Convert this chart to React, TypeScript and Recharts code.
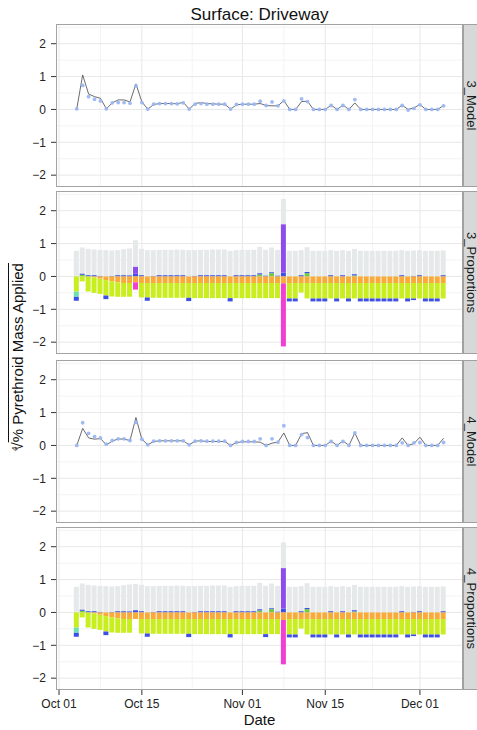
import React from 'react';
import {
  ComposedChart,
  BarChart,
  Bar,
  Line,
  XAxis,
  YAxis,
  CartesianGrid,
} from 'recharts';

// ---- sampling dates (MM-DD) ----
const dates = [
  '10-04', '10-05', '10-06', '10-07', '10-08', '10-09', '10-10', '10-11', '10-12', '10-13',
  '10-14', '10-15', '10-16', '10-17', '10-18', '10-19', '10-20', '10-21', '10-22', '10-23',
  '10-24', '10-25', '10-26', '10-27', '10-28', '10-29', '10-30', '10-31', '11-01', '11-02',
  '11-03', '11-04', '11-05', '11-06', '11-07', '11-08', '11-09', '11-10', '11-11', '11-12',
  '11-13', '11-14', '11-15', '11-16', '11-17', '11-18', '11-19', '11-20', '11-21', '11-22',
  '11-23', '11-24', '11-25', '11-26', '11-27', '11-28', '11-29', '11-30', '12-01', '12-02',
  '12-03', '12-04', '12-05',
];

// ---- axis ticks ----
const xTickDates = ['10-01', '10-15', '11-01', '11-15', '12-01'];
const xTickLabels = ['Oct 01', 'Oct 15', 'Nov 01', 'Nov 15', 'Dec 01'];
const xMinorDays = [7, 22.5, 38, 53];
const yTicks = [-2, -1, 0, 1, 2];
const yMinor = [-1.5, -0.5, 0.5, 1.5, 2.5];

// ---- model panels: fitted line and observed points ----
const model3Fit = [
  0.02, 1.05, 0.47, 0.39, 0.34, 0.02, 0.20, 0.29, 0.29, 0.23,
  0.78, 0.23, 0.01, 0.15, 0.18, 0.18, 0.18, 0.17, 0.22, 0.01,
  0.18, 0.21, 0.18, 0.17, 0.16, 0.16, 0.01, 0.14, 0.16, 0.16,
  0.16, 0.18, 0.12, 0.11, 0.11, 0.27, 0.00, 0.00, 0.24, 0.25,
  0.00, 0.00, 0.00, 0.13, 0.00, 0.13, 0.00, 0.20, 0.00, 0.00,
  0.00, 0.00, 0.00, 0.00, 0.00, 0.13, 0.00, 0.05, 0.15, 0.00,
  0.00, 0.00, 0.12,
];
const model3Obs = [
  0.02, 0.73, 0.39, 0.31, 0.26, 0.02, 0.20, 0.21, 0.21, 0.19,
  0.72, 0.21, 0.01, 0.16, 0.18, 0.18, 0.18, 0.17, 0.20, 0.01,
  0.16, 0.18, 0.16, 0.16, 0.16, 0.16, 0.01, 0.15, 0.16, 0.16,
  0.16, 0.25, 0.12, 0.23, 0.11, 0.26, 0.00, 0.00, 0.32, 0.24,
  0.00, 0.00, 0.00, 0.12, 0.00, 0.12, 0.00, 0.30, 0.00, 0.00,
  0.00, 0.00, 0.00, 0.00, 0.00, 0.12, -0.02, 0.03, 0.14, 0.00,
  0.00, 0.00, 0.11,
];
const model4Fit = [
  0.00, 0.52, 0.23, 0.19, 0.21, 0.02, 0.13, 0.20, 0.19, 0.15,
  0.85, 0.19, 0.02, 0.12, 0.14, 0.14, 0.14, 0.14, 0.14, 0.02,
  0.13, 0.14, 0.12, 0.12, 0.12, 0.12, 0.00, 0.09, 0.11, 0.11,
  0.11, 0.10, 0.00, 0.07, 0.10, 0.38, 0.00, 0.00, 0.36, 0.39,
  0.00, 0.00, 0.00, 0.13, 0.00, 0.14, 0.00, 0.38, 0.00, 0.00,
  0.00, 0.00, 0.00, 0.00, 0.00, 0.23, 0.00, 0.06, 0.25, 0.00,
  0.00, 0.00, 0.22,
];
const model4Obs = [
  0.00, 0.69, 0.37, 0.27, 0.23, 0.04, 0.15, 0.20, 0.20, 0.15,
  0.70, 0.19, 0.02, 0.13, 0.14, 0.14, 0.14, 0.14, 0.14, 0.02,
  0.13, 0.14, 0.13, 0.13, 0.13, 0.13, 0.00, 0.09, 0.12, 0.12,
  0.12, 0.20, 0.00, 0.20, 0.10, 0.60, 0.00, 0.00, 0.33, 0.24,
  0.00, 0.00, 0.00, 0.12, 0.00, 0.12, 0.00, 0.38, 0.00, 0.00,
  0.00, 0.00, 0.00, 0.00, 0.00, 0.08, 0.00, 0.08, 0.09, 0.00,
  0.00, 0.00, 0.09,
];

// ---- proportion panels: segment heights per day ----
// total height of the positive stack
const top3 = [
  0.78, 0.88, 0.84, 0.82, 0.81, 0.80, 0.79, 0.80, 0.83, 0.85,
  1.10, 0.84, 0.80, 0.80, 0.81, 0.81, 0.81, 0.82, 0.81, 0.80,
  0.80, 0.81, 0.81, 0.82, 0.82, 0.82, 0.78, 0.80, 0.81, 0.81,
  0.81, 0.90, 0.81, 0.88, 0.81, 2.36, 0.78, 0.78, 0.80, 0.89,
  0.78, 0.78, 0.78, 0.80, 0.78, 0.80, 0.78, 0.84, 0.78, 0.78,
  0.78, 0.78, 0.78, 0.78, 0.78, 0.80, 0.78, 0.79, 0.80, 0.78,
  0.78, 0.78, 0.79,
];
const top4 = [
  0.78, 0.88, 0.84, 0.82, 0.81, 0.80, 0.79, 0.80, 0.83, 0.85,
  0.87, 0.84, 0.80, 0.80, 0.81, 0.81, 0.81, 0.82, 0.81, 0.80,
  0.80, 0.81, 0.81, 0.82, 0.82, 0.82, 0.78, 0.80, 0.81, 0.81,
  0.81, 0.90, 0.81, 0.88, 0.81, 2.13, 0.78, 0.78, 0.80, 0.89,
  0.78, 0.78, 0.78, 0.80, 0.78, 0.80, 0.78, 0.84, 0.78, 0.78,
  0.78, 0.78, 0.78, 0.78, 0.78, 0.80, 0.78, 0.79, 0.80, 0.78,
  0.78, 0.78, 0.79,
];
const greenPos = [
  0, 0.05, 0, 0, 0, 0, 0, 0, 0, 0,
  0, 0, 0, 0, 0, 0, 0, 0, 0, 0,
  0, 0, 0, 0, 0, 0, 0, 0, 0, 0,
  0, 0.06, 0, 0.10, 0, 0, 0, 0, 0, 0.10,
  0, 0, 0, 0, 0, 0, 0, 0.03, 0, 0,
  0, 0, 0, 0, 0, 0, 0, 0, 0, 0,
  0, 0, 0,
];
const bluePos3 = [
  0, 0.04, 0.04, 0.04, 0.02, 0, 0.02, 0.04, 0.04, 0.04,
  0.08, 0.04, 0, 0.02, 0.04, 0.04, 0.04, 0.04, 0.04, 0,
  0.02, 0.04, 0.04, 0.04, 0.04, 0.04, 0, 0.04, 0.04, 0.04,
  0.04, 0.04, 0.03, 0.03, 0.03, 0.12, 0, 0, 0.04, 0.04,
  0, 0, 0, 0.04, 0, 0.04, 0, 0.04, 0, 0,
  0, 0, 0, 0, 0, 0.04, 0, 0.02, 0.04, 0,
  0, 0, 0.04,
];
const bluePos4 = [
  0, 0.04, 0.04, 0.04, 0.02, 0, 0.02, 0.04, 0.04, 0.04,
  0.07, 0.04, 0, 0.02, 0.04, 0.04, 0.04, 0.04, 0.04, 0,
  0.02, 0.04, 0.04, 0.04, 0.04, 0.04, 0, 0.04, 0.04, 0.04,
  0.04, 0.04, 0, 0.03, 0.03, 0.12, 0, 0, 0.04, 0.04,
  0, 0, 0, 0.04, 0, 0.04, 0, 0.04, 0, 0,
  0, 0, 0, 0, 0, 0.04, 0, 0.02, 0.04, 0,
  0, 0, 0.04,
];
const purple3 = [
  0, 0, 0, 0, 0, 0, 0, 0, 0, 0,
  0.22, 0, 0, 0, 0, 0, 0, 0, 0, 0,
  0, 0, 0, 0, 0, 0, 0, 0, 0, 0,
  0, 0, 0, 0, 0, 1.47, 0, 0, 0, 0,
  0, 0, 0, 0, 0, 0, 0, 0, 0, 0,
  0, 0, 0, 0, 0, 0, 0, 0, 0, 0,
  0, 0, 0,
];
const purple4 = [
  0, 0, 0, 0, 0, 0, 0, 0, 0, 0,
  0, 0, 0, 0, 0, 0, 0, 0, 0, 0,
  0, 0, 0, 0, 0, 0, 0, 0, 0, 0,
  0, 0, 0, 0, 0, 1.23, 0, 0, 0, 0,
  0, 0, 0, 0, 0, 0, 0, 0, 0, 0,
  0, 0, 0, 0, 0, 0, 0, 0, 0, 0,
  0, 0, 0,
];
const orange3 = [
  0, 0, 0, 0.03, 0.07, 0.11, 0.15, 0.18, 0.20, 0.20,
  0.18, 0.20, 0.20, 0.20, 0.20, 0.20, 0.20, 0.20, 0.20, 0.20,
  0.20, 0.20, 0.20, 0.20, 0.20, 0.20, 0.20, 0.20, 0.20, 0.20,
  0.20, 0.20, 0.20, 0.20, 0.20, 0.21, 0.20, 0.20, 0.20, 0.20,
  0.20, 0.20, 0.20, 0.20, 0.20, 0.20, 0.20, 0.20, 0.20, 0.20,
  0.20, 0.20, 0.20, 0.20, 0.20, 0.20, 0.20, 0.20, 0.20, 0.20,
  0.20, 0.20, 0.20,
];
const orange4 = [
  0, 0, 0, 0.03, 0.07, 0.11, 0.15, 0.18, 0.20, 0.20,
  0.20, 0.20, 0.20, 0.20, 0.20, 0.20, 0.20, 0.20, 0.20, 0.20,
  0.20, 0.20, 0.20, 0.20, 0.20, 0.20, 0.20, 0.20, 0.20, 0.20,
  0.20, 0.20, 0.20, 0.20, 0.20, 0.23, 0.20, 0.20, 0.20, 0.20,
  0.20, 0.20, 0.20, 0.20, 0.20, 0.20, 0.20, 0.20, 0.20, 0.20,
  0.20, 0.20, 0.20, 0.20, 0.20, 0.20, 0.20, 0.20, 0.20, 0.20,
  0.20, 0.20, 0.20,
];
const yellowGreen3 = [
  0.46, 0.15, 0.46, 0.47, 0.46, 0.47, 0.46, 0.44, 0.42, 0.42,
  0.00, 0.44, 0.44, 0.45, 0.45, 0.45, 0.45, 0.45, 0.45, 0.45,
  0.46, 0.46, 0.46, 0.46, 0.46, 0.46, 0.46, 0.46, 0.46, 0.46,
  0.46, 0.46, 0.46, 0.46, 0.46, 0.00, 0.47, 0.47, 0.29, 0.47,
  0.47, 0.47, 0.47, 0.47, 0.47, 0.47, 0.47, 0.47, 0.47, 0.47,
  0.47, 0.47, 0.47, 0.47, 0.47, 0.47, 0.47, 0.47, 0.47, 0.47,
  0.47, 0.47, 0.47,
];
const yellowGreen4 = [
  0.46, 0.15, 0.46, 0.47, 0.46, 0.47, 0.46, 0.44, 0.42, 0.42,
  0.00, 0.44, 0.44, 0.45, 0.45, 0.45, 0.45, 0.45, 0.45, 0.45,
  0.46, 0.46, 0.46, 0.46, 0.46, 0.46, 0.46, 0.46, 0.46, 0.46,
  0.46, 0.46, 0.46, 0.46, 0.46, 0.00, 0.47, 0.47, 0.29, 0.47,
  0.47, 0.47, 0.47, 0.47, 0.47, 0.47, 0.47, 0.47, 0.47, 0.47,
  0.47, 0.47, 0.47, 0.47, 0.47, 0.47, 0.47, 0.47, 0.47, 0.47,
  0.47, 0.47, 0.47,
];
const tealNeg = [
  0.16, 0, 0, 0, 0, 0, 0, 0, 0, 0,
  0, 0, 0, 0, 0, 0, 0, 0, 0, 0,
  0, 0, 0, 0, 0, 0, 0, 0, 0, 0,
  0, 0, 0, 0, 0, 0, 0, 0, 0, 0,
  0, 0, 0, 0, 0, 0, 0, 0, 0, 0,
  0, 0, 0, 0, 0, 0, 0, 0, 0, 0,
  0, 0, 0,
];
const magenta3 = [
  0, 0, 0, 0, 0, 0, 0, 0, 0, 0,
  0.22, 0, 0, 0, 0, 0, 0, 0, 0, 0,
  0, 0, 0, 0, 0, 0, 0, 0, 0, 0,
  0, 0, 0, 0, 0, 1.92, 0, 0, 0, 0,
  0, 0, 0, 0, 0, 0, 0, 0, 0, 0,
  0, 0, 0, 0, 0, 0, 0, 0, 0, 0,
  0, 0, 0,
];
const magenta4 = [
  0, 0, 0, 0, 0, 0, 0, 0, 0, 0,
  0, 0, 0, 0, 0, 0, 0, 0, 0, 0,
  0, 0, 0, 0, 0, 0, 0, 0, 0, 0,
  0, 0, 0, 0, 0, 1.35, 0, 0, 0, 0,
  0, 0, 0, 0, 0, 0, 0, 0, 0, 0,
  0, 0, 0, 0, 0, 0, 0, 0, 0, 0,
  0, 0, 0,
];
const blueNeg3 = [
  0.12, 0, 0, 0, 0, 0.11, 0, 0, 0, 0,
  0, 0, 0.10, 0, 0, 0, 0, 0, 0, 0.10,
  0, 0, 0, 0, 0, 0, 0.10, 0, 0, 0,
  0, 0, 0, 0, 0, 0, 0.09, 0.09, 0, 0,
  0.09, 0.09, 0.09, 0, 0.09, 0, 0.09, 0, 0.09, 0.09,
  0.09, 0.09, 0.09, 0.09, 0.09, 0, 0.09, 0.05, 0, 0.09,
  0.09, 0.09, 0,
];
const blueNeg4 = [
  0.12, 0, 0, 0, 0, 0.11, 0, 0, 0, 0,
  0, 0, 0.10, 0, 0, 0, 0, 0, 0, 0.10,
  0, 0, 0, 0, 0, 0, 0.10, 0, 0, 0,
  0, 0, 0.09, 0, 0, 0, 0.09, 0.09, 0, 0,
  0.09, 0.09, 0.09, 0, 0.09, 0, 0.09, 0, 0.09, 0.09,
  0.09, 0.09, 0.09, 0.09, 0.09, 0, 0.09, 0.05, 0, 0.09,
  0.09, 0.09, 0,
];

// ---- layout & style ----
const FONT = '"Liberation Sans", Arial, Helvetica, sans-serif';
const CHART_W = 477;
const PLOT_LEFT = 56;
const PLOT_RIGHT = 463;
const PANEL_H = 163;
const X_AXIS_H = 34;
const panelTops = [24, 191, 360, 527];
const stripLabels = ['3_Model', '3_Proportions', '4_Model', '4_Proportions'];
const X_DOMAIN: [number, number] = [-0.51, 68.28];
const Y_DOMAIN: [number, number] = [-2.36, 2.6];

const COLORS = {
  grey: '#E6E9E9',
  green: '#72CC3E',
  blue: '#3F4FE2',
  purple: '#8D4DEB',
  orange: '#F8AB3A',
  yellowGreen: '#C8EE20',
  teal: '#6CE2B2',
  magenta: '#F23FD3',
  fit: '#5A5A5A',
  obs: '#9BB6F3',
};

const monthStart: Record<string, number> = { '10': 0, '11': 31, '12': 61 };
const dayNumber = (md: string) => monthStart[md.slice(0, 2)] + Number(md.slice(3)) - 1;
const xTickValues = xTickDates.map(dayNumber);
const xLabelOf = (v: number) => xTickLabels[xTickValues.indexOf(v)] ?? '';
const yLabelOf = (v: number) => (v < 0 ? '\u2212' + Math.abs(v) : String(v));

const modelData = (fit: number[], obs: number[]) =>
  dates.map((d, i) => ({ x: dayNumber(d), fit: fit[i], obs: obs[i] }));

const propData = (
  top: number[], blue: number[], purple: number[], orange: number[],
  yg: number[], magenta: number[], blueNeg: number[],
) =>
  dates.map((d, i) => ({
    x: dayNumber(d),
    green: greenPos[i],
    blue: blue[i],
    purple: purple[i],
    grey: Math.max(0, top[i] - greenPos[i] - blue[i] - purple[i]),
    orange: -orange[i],
    yellowGreen: -yg[i],
    teal: -tealNeg[i],
    magenta: -magenta[i],
    blueNeg: -blueNeg[i],
  }));

const panels = [
  { kind: 'model', data: modelData(model3Fit, model3Obs) },
  { kind: 'prop', data: propData(top3, bluePos3, purple3, orange3, yellowGreen3, magenta3, blueNeg3) },
  { kind: 'model', data: modelData(model4Fit, model4Obs) },
  { kind: 'prop', data: propData(top4, bluePos4, purple4, orange4, yellowGreen4, magenta4, blueNeg4) },
];

const axisParts = (showX: boolean) => [
  <CartesianGrid
    key="gminor"
    horizontalValues={yMinor}
    verticalValues={xMinorDays}
    stroke="#F3F3F3"
    strokeWidth={1}
  />,
  <CartesianGrid
    key="gmajor"
    horizontalValues={yTicks}
    verticalValues={xTickValues}
    stroke="#E8E8E8"
    strokeWidth={1}
  />,
  <XAxis
    key="x"
    dataKey="x"
    type="number"
    domain={X_DOMAIN}
    allowDataOverflow
    ticks={xTickValues}
    interval={0}
    tickFormatter={xLabelOf}
    hide={!showX}
    height={X_AXIS_H}
    axisLine={false}
    tickSize={5}
    tickMargin={4}
    tickLine={{ stroke: '#333333' }}
    tick={{ fill: '#222222', fontSize: 12, fontFamily: FONT }}
  />,
  <YAxis
    key="y"
    type="number"
    domain={Y_DOMAIN}
    allowDataOverflow
    ticks={yTicks}
    interval={0}
    tickFormatter={yLabelOf}
    width={PLOT_LEFT}
    axisLine={false}
    tickSize={5}
    tickMargin={5}
    tickLine={{ stroke: '#333333' }}
    tick={{ fill: '#222222', fontSize: 12, fontFamily: FONT }}
  />,
];

const margin = { top: 0, right: CHART_W - PLOT_RIGHT, bottom: 0, left: 0 };

function ModelPanel({ data, showX }: { data: any[]; showX: boolean }) {
  return (
    <ComposedChart
      width={CHART_W}
      height={PANEL_H + (showX ? X_AXIS_H : 0)}
      data={data}
      margin={margin}
    >
      {axisParts(showX)}
      <Line
        dataKey="fit"
        type="linear"
        stroke={COLORS.fit}
        strokeWidth={0.9}
        dot={false}
        activeDot={false}
        isAnimationActive={false}
      />
      <Line
        dataKey="obs"
        type="linear"
        stroke="none"
        dot={{ r: 1.9, fill: COLORS.obs, stroke: 'none', fillOpacity: 0.95 }}
        activeDot={false}
        isAnimationActive={false}
      />
    </ComposedChart>
  );
}

const stackKeys: (keyof typeof COLORS)[] = [
  'green', 'blue', 'purple', 'grey', 'orange', 'yellowGreen', 'teal', 'magenta',
];

function PropPanel({ data, showX }: { data: any[]; showX: boolean }) {
  return (
    <BarChart
      width={CHART_W}
      height={PANEL_H + (showX ? X_AXIS_H : 0)}
      data={data}
      margin={margin}
      stackOffset="sign"
      barGap={0}
    >
      {axisParts(showX)}
      {stackKeys.map((k) => (
        <Bar key={k} dataKey={k} stackId="s" fill={COLORS[k]} barSize={5} isAnimationActive={false} />
      ))}
      <Bar dataKey="blueNeg" stackId="s" fill={COLORS.blue} barSize={5} isAnimationActive={false} />
    </BarChart>
  );
}

export default function App() {
  return (
    <div
      style={{
        position: 'absolute',
        left: 0,
        top: 0,
        width: CHART_W,
        height: 730,
        background: '#ffffff',
        fontFamily: FONT,
        overflow: 'hidden',
      }}
    >
      {panels.map((p, i) => (
        <div key={i} style={{ position: 'absolute', left: 0, top: panelTops[i] }}>
          {p.kind === 'model' ? (
            <ModelPanel data={p.data} showX={i === 3} />
          ) : (
            <PropPanel data={p.data} showX={i === 3} />
          )}
        </div>
      ))}

      <svg
        width={CHART_W}
        height={730}
        style={{ position: 'absolute', left: 0, top: 0, pointerEvents: 'none' }}
      >
        <text x={259.5} y={19.5} textAnchor="middle" fontSize={17} fill="#111" fontFamily={FONT}>
          Surface: Driveway
        </text>
        {panelTops.map((t, i) => (
          <g key={i}>
            <rect
              x={PLOT_LEFT + 0.5}
              y={t + 0.5}
              width={PLOT_RIGHT - PLOT_LEFT - 1}
              height={PANEL_H - 1}
              fill="none"
              stroke="#A3A3A3"
              strokeWidth={1}
            />
            <rect
              x={PLOT_RIGHT + 0.5}
              y={t + 0.5}
              width={30}
              height={PANEL_H - 1}
              fill="#D7D9D9"
              stroke="#A0A0A0"
              strokeWidth={1}
            />
            <text
              x={466.5}
              y={t + PANEL_H / 2}
              transform={`rotate(90, 466.5, ${t + PANEL_H / 2})`}
              textAnchor="middle"
              fontSize={13}
              fill="#1A1A1A"
              fontFamily={FONT}
            >
              {stripLabels[i]}
            </text>
          </g>
        ))}
        <text x={259.5} y={725} textAnchor="middle" fontSize={15} fill="#111" fontFamily={FONT}>
          Date
        </text>
      </svg>

      <div
        style={{
          position: 'absolute',
          left: 18,
          top: 357,
          transform: 'translate(-50%, -50%) rotate(-90deg)',
          whiteSpace: 'nowrap',
          fontSize: 15,
          lineHeight: 1.2,
          color: '#111',
          fontFamily: FONT,
        }}
      >
        <span style={{ fontSize: 8, position: 'relative', top: -6, marginRight: -4 }}>4</span>
        <span>{'\u221A'}</span>
        <span style={{ textDecoration: 'overline' }}>% Pyrethroid Mass Applied</span>
      </div>
    </div>
  );
}
